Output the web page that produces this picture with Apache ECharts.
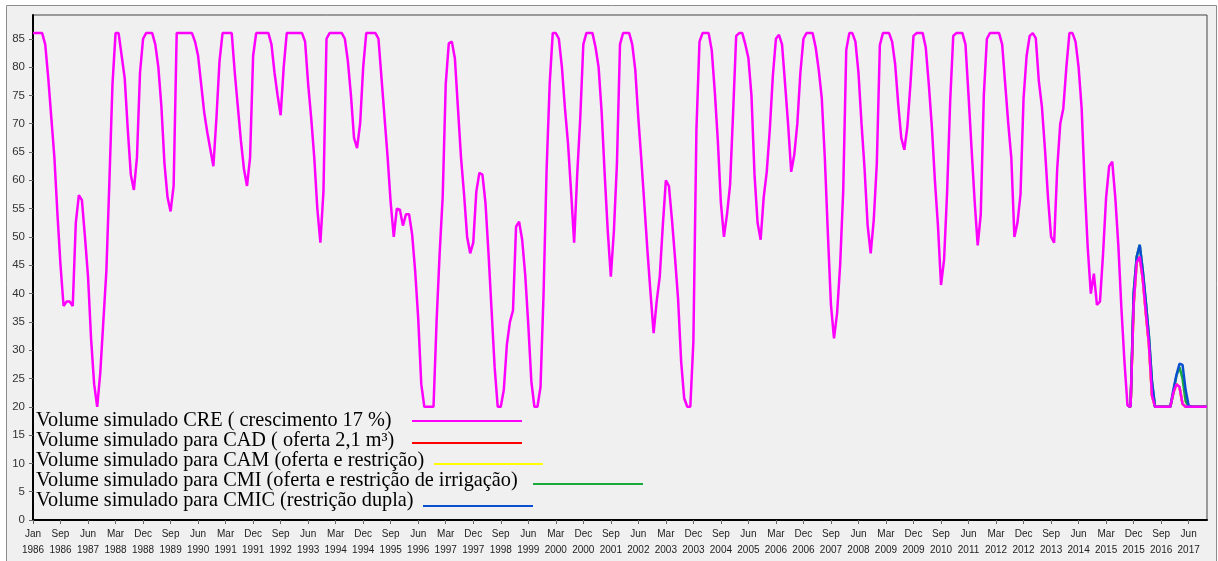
<!DOCTYPE html>
<html>
<head>
<meta charset="utf-8">
<script src="https://cdn.jsdelivr.net/npm/echarts@6/dist/echarts.min.js"></script>
<style>
  html, body { margin: 0; padding: 0; background: #fff; }
  #chart { width: 1218px; height: 561px; }
</style>
</head>
<body>
<div id="chart"></div>
<script>
// monthly simulated volume, Jan 1986 .. Jan 2018
const cre = [
  86, 86, 86, 86, 84, 78, 71, 64, 54, 45, 37.8, 38.6,          // 1986
  38.6, 37.8, 52.5, 57.4, 56.5, 50, 43, 32, 24, 20, 26, 35,    // 1987
  44, 60, 77, 86, 86, 82, 78, 69, 61, 58.3, 64, 79,            // 1988
  85, 86, 86, 86, 84, 80, 73, 63, 57, 54.5, 59, 86,            // 1989
  86, 86, 86, 86, 86, 84.5, 82, 77, 72, 68.5, 65.5, 62.5,      // 1990
  71, 81, 86, 86, 86, 86, 79, 73, 67, 62, 59, 64,              // 1991
  82, 86, 86, 86, 86, 86, 84, 79, 75, 71.5, 80, 86,            // 1992
  86, 86, 86, 86, 86, 84.5, 77, 71, 64, 55, 49, 58,            // 1993
  85, 86, 86, 86, 86, 86, 85, 81, 75, 67.5, 65.7, 70,          // 1994
  80, 86, 86, 86, 86, 85, 78, 71, 64, 56, 50, 55,              // 1995
  54.8, 52, 54, 54, 50.5, 44, 35.6, 24, 20, 20, 20, 20,        // 1996
  35, 47, 57, 77, 84.2, 84.5, 81.5, 72.7, 64, 57.5, 50, 47.1,  // 1997
  49, 58, 61.3, 61, 56, 47, 37, 27, 20, 20, 23, 31,            // 1998
  35, 37, 51.8, 52.7, 49.5, 43.3, 34.5, 24.5, 20, 20, 23.5, 40,// 1999
  62, 77, 86, 86, 85, 80, 72.7, 66.5, 58, 49, 61, 71,          // 2000
  84, 86, 86, 86, 83.5, 80, 72, 61, 51, 43, 51, 63,            // 2001
  84, 86, 86, 86, 84, 79.5, 71, 63.5, 55.5, 47.4, 40, 33,      // 2002
  38.6, 43, 52, 60, 59, 53, 46.3, 39, 28, 21.5, 20, 20,        // 2003
  31.5, 69, 84.5, 86, 86, 86, 83, 75.7, 67, 56, 50, 54,        // 2004
  59.2, 72, 85.5, 86, 86, 84, 81.6, 75, 61, 52.5, 49.5, 57,    // 2005
  61.5, 69, 78.5, 85, 85.7, 84, 77, 69.8, 61.5, 64.5, 70, 79,  // 2006
  85, 86, 86, 86, 83.5, 79.5, 74.5, 63.9, 50.5, 38, 32.1, 36.5,// 2007
  45, 58, 83, 86, 86, 84.5, 79, 70, 62, 52, 47.1, 53,          // 2008
  63, 83.9, 86, 86, 86, 84.5, 80.5, 73.5, 67.5, 65.4, 69.5, 77,// 2009
  85.5, 86, 86, 86, 83.5, 77, 69.5, 60, 52, 41.5, 46, 58,      // 2010
  74, 85.5, 86, 86, 86, 84, 75, 65.5, 56.3, 48.5, 54, 75,      // 2011
  85, 86, 86, 86, 86, 84, 77, 70, 63.9, 50, 52.5, 57.5,        // 2012
  74.5, 82, 85.5, 86, 85.1, 77.5, 73, 65.5, 56.9, 50, 49, 62,  // 2013
  70, 72.7, 80, 86, 86, 84.5, 80, 72.7, 59, 48, 40, 43.5,      // 2014
  38, 38.6, 47, 57, 62.5, 63.3, 57, 48.5, 37.4, 28, 20.2, 20,  // 2015
  38, 45.5, 46.5, 42.5, 36.5, 31, 22, 20, 20, 20, 20, 20,      // 2016
  20, 22.5, 24, 23.5, 20.5, 20, 20, 20, 20, 20, 20, 20,        // 2017
  20                                                           // 2018
];

// the other scenarios only split from CRE at the end of the record
const tailStart = 358;
const cad  = [20.2, 20, 38, 45.5, 46.5, 42.5, 36.5, 31, 22, 20, 20, 20, 20, 20, 20, 22.5, 24, 23.5, 20.5, 20, 20, 20, 20, 20, 20, 20, 20];
const cam  = [20.2, 20, 38, 45.5, 46.5, 42.5, 36.5, 31, 22, 20, 20, 20, 20, 20, 20, 22.5, 24, 23.5, 20.5, 20, 20, 20, 20, 20, 20, 20, 20];
const cmi  = [20.2, 20, 40, 46.5, 48.6, 44, 38.5, 32.5, 24.5, 20, 20, 20, 20, 20, 20, 22.5, 25.5, 27, 25, 21, 20, 20, 20, 20, 20, 20, 20];
const cmic = [20.2, 20, 40, 46.5, 48.6, 44, 38.5, 32.5, 24.5, 20, 20, 20, 20, 20, 20, 23, 25.6, 27.6, 27.4, 23, 20.2, 20, 20, 20, 20, 20, 20];

const tickLabels = [
  'Jan 1986', 'Sep 1986', 'Jun 1987', 'Mar 1988', 'Dec 1988', 'Sep 1989', 'Jun 1990', 'Mar 1991',
  'Dec 1991', 'Sep 1992', 'Jun 1993', 'Mar 1994', 'Dec 1994', 'Sep 1995', 'Jun 1996', 'Mar 1997',
  'Dec 1997', 'Sep 1998', 'Jun 1999', 'Mar 2000', 'Dec 2000', 'Sep 2001', 'Jun 2002', 'Mar 2003',
  'Dec 2003', 'Sep 2004', 'Jun 2005', 'Mar 2006', 'Dec 2006', 'Sep 2007', 'Jun 2008', 'Mar 2009',
  'Dec 2009', 'Sep 2010', 'Jun 2011', 'Mar 2012', 'Dec 2012', 'Sep 2013', 'Jun 2014', 'Mar 2015',
  'Dec 2015', 'Sep 2016', 'Jun 2017'
];
const yTicks = [0, 5, 10, 15, 20, 25, 30, 35, 40, 45, 50, 55, 60, 65, 70, 75, 80, 85];

const seriesNames = [
  'Volume simulado CRE ( crescimento 17 %)',
  'Volume simulado para CAD ( oferta 2,1 m\u00b3)',
  'Volume simulado para CAM (oferta e restri\u00e7\u00e3o)',
  'Volume simulado para CMI (oferta e restri\u00e7\u00e3o de irriga\u00e7\u00e3o)',
  'Volume simulado para CMIC (restri\u00e7\u00e3o dupla)'
];
const colors = ['#ff00ff', '#ff0000', '#ffff00', '#1aaa3a', '#0a4fd0'];

const chart = echarts.init(document.getElementById('chart'));

function tail(arr) {
  return arr.map((v, k) => [tailStart + k, v]);
}

// legend drawn by hand: text on the left, sample line to its right
const legendRows = [
  { y: 421, line: [412, 522], ly: 421 },
  { y: 441, line: [412, 522], ly: 443 },
  { y: 461, line: [434, 543], ly: 464 },
  { y: 481, line: [533, 643], ly: 484 },
  { y: 501, line: [423, 533], ly: 506 }
];
const legendGraphics = [];
legendRows.forEach((r, k) => {
  legendGraphics.push({
    type: 'text',
    style: { x: 36, y: r.y, text: seriesNames[k], font: '20.3px "Liberation Serif"', fill: '#000', verticalAlign: 'middle' },
    z: 20
  });
  legendGraphics.push({
    type: 'line',
    shape: { x1: r.line[0], y1: r.ly, x2: r.line[1], y2: r.ly },
    style: { stroke: colors[k], lineWidth: 2 },
    z: 20
  });
});

const lineSeries = (name, data, color, z) => ({
  name: name,
  type: 'line',
  data: data,
  z: z,
  symbol: 'none',
  lineStyle: { color: color, width: 2.5 },
  itemStyle: { color: color }
});

chart.setOption({
  animation: false,
  backgroundColor: '#fff',
  grid: {
    left: 33, right: 11, top: 15, bottom: 41,
    show: true, borderColor: '#444', borderWidth: 1
  },
  graphic: [
    {
      type: 'rect', z: -10, silent: true,
      shape: { x: 6.5, y: 5.5, width: 1210, height: 600 },
      style: { fill: '#f0f0f0', stroke: '#8c8c8c', lineWidth: 1 }
    }
  ].concat(legendGraphics),
  xAxis: {
    type: 'category',
    data: cre.map((_, i) => i),
    boundaryGap: false,
    axisLine: { lineStyle: { color: '#000', width: 2 } },
    axisTick: { interval: 8, length: 4, lineStyle: { color: '#666' } },
    axisLabel: {
      interval: 8,
      formatter: (v, idx) => tickLabels[idx / 9].replace(' ', '\n'),
      fontFamily: 'Liberation Sans', fontSize: 10, lineHeight: 16, color: '#222', margin: 6
    },
    splitLine: { show: false }
  },
  yAxis: {
    type: 'value',
    min: 0, max: 89.2, interval: 5,
    axisLine: { show: true, lineStyle: { color: '#000', width: 2 } },
    axisTick: { show: true, length: 4, lineStyle: { color: '#666' }, customValues: yTicks },
    axisLabel: { fontFamily: 'Liberation Sans', fontSize: 11.5, color: '#333', margin: 8, customValues: yTicks },
    splitLine: { show: false }
  },
  series: [
    lineSeries(seriesNames[1], tail(cad), colors[1], 2),
    lineSeries(seriesNames[2], tail(cam), colors[2], 3),
    lineSeries(seriesNames[3], tail(cmi), colors[3], 4),
    lineSeries(seriesNames[4], tail(cmic), colors[4], 5),
    lineSeries(seriesNames[0], cre, colors[0], 6)
  ]
});
</script>
</body>
</html>
